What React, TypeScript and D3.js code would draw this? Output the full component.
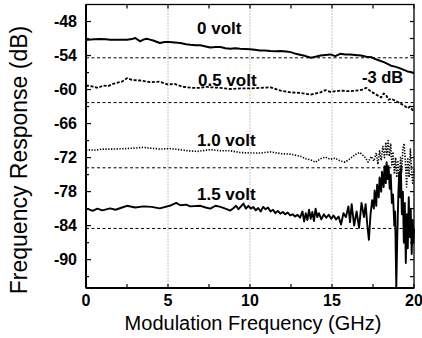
import React from "react";
import * as d3 from "d3";

const W = 422;
const H = 338;

const xTicks = [0, 5, 10, 15, 20];
const yTicks = [-48, -54, -60, -66, -72, -78, -84, -90];
const refLines = [-54.4, -62.3, -73.8, -84.5];

const f0 = [0, 0.12, 0.5, 0.86, 1.2, 1.47, 2.0, 2.5, 2.8, 3.0, 3.15, 3.3, 3.5, 3.7, 3.9, 4.1, 4.5, 4.8, 5.1, 5.4, 5.75, 6.1, 6.36, 6.7, 6.97, 7.3, 7.58, 7.9, 8.2, 8.5, 8.8, 9.1, 9.4, 9.7, 10.0, 10.3, 10.6, 10.9, 11.25, 11.6, 11.87, 12.2, 12.48, 12.8, 13.1, 13.4, 13.7, 14.0, 14.3, 14.6, 14.9, 15.2, 15.5, 15.8, 16.1, 16.4, 16.76, 17.1, 17.4, 17.8, 18.2, 18.6, 18.9, 19.2, 19.6, 19.8, 20.0];
const v0 = [-51.3, -51.2, -51.15, -51.1, -51.15, -51.2, -51.2, -51.2, -51.1, -50.9, -51.2, -51.5, -51.2, -51.05, -51.2, -51.35, -51.8, -51.6, -51.6, -51.7, -51.8, -52.0, -52.1, -52.2, -52.2, -52.4, -52.6, -52.5, -52.5, -52.7, -52.8, -52.7, -52.8, -52.85, -52.9, -53.0, -53.1, -53.1, -53.2, -53.25, -53.2, -53.3, -53.4, -53.7, -53.9, -54.1, -54.4, -54.2, -54.0, -53.9, -53.8, -54.1, -53.7, -53.8, -53.8, -53.9, -54.0, -54.2, -54.3, -54.8, -55.2, -55.8, -56.0, -56.3, -56.8, -56.9, -57.1];

const f05 = [0, 0.12, 0.43, 0.73, 1.04, 1.35, 1.65, 2.2, 2.5, 2.8, 3.3, 3.9, 4.5, 4.96, 5.4, 5.9, 6.5, 6.97, 7.3, 7.6, 8.2, 8.8, 9.4, 10.0, 10.6, 11.25, 11.87, 12.48, 13.1, 13.7, 14.3, 14.6, 14.9, 15.5, 16.1, 16.76, 17.1, 17.4, 17.7, 18.0, 18.15, 18.3, 18.45, 18.6, 18.8, 19.0, 19.2, 19.4, 19.6, 19.75, 19.9, 20.0];
const v05 = [-59.4, -59.3, -59.5, -59.7, -59.3, -59.4, -59.0, -58.6, -58.0, -58.3, -58.4, -58.7, -58.6, -59.1, -59.0, -59.5, -59.7, -59.7, -59.5, -59.6, -59.7, -59.9, -59.8, -59.8, -59.7, -59.6, -60.2, -60.5, -60.6, -60.9, -60.5, -60.1, -60.4, -60.2, -60.3, -60.1, -59.7, -60.4, -60.9, -61.4, -60.7, -61.0, -61.8, -61.6, -61.9, -62.2, -62.5, -62.8, -63.3, -63.0, -63.6, -63.4];

const f10 = [0, 0.12, 0.5, 1.04, 1.6, 2.5, 3.1, 3.5, 4.5, 5.1, 5.7, 6.2, 6.8, 7.6, 8.2, 8.8, 9.4, 10.0, 10.6, 11.25, 11.9, 12.5, 13.1, 13.4, 13.7, 14.0, 14.3, 14.6, 14.9, 15.2, 15.5, 15.8, 16.1, 16.4, 16.7, 17.0, 17.2, 17.4, 17.55, 17.7, 17.8, 17.9, 18.0, 18.1, 18.2, 18.28, 18.35, 18.42, 18.5, 18.58, 18.65, 18.72, 18.8, 18.88, 18.95, 19.02, 19.1, 19.18, 19.25, 19.32, 19.4, 19.48, 19.55, 19.62, 19.7, 19.78, 19.85, 19.92, 20.0];
const v10 = [-70.7, -70.6, -70.7, -70.5, -70.5, -70.4, -70.3, -70.2, -70.5, -70.4, -70.6, -70.8, -70.9, -70.6, -70.8, -70.8, -71.1, -71.2, -71.2, -71.0, -71.3, -71.4, -71.8, -72.2, -72.4, -72.8, -72.2, -71.9, -72.3, -72.1, -72.6, -72.8, -72.2, -71.5, -71.1, -71.9, -72.8, -71.8, -72.6, -71.2, -73.2, -70.8, -72.5, -70.0, -72.0, -69.3, -71.5, -69.0, -71.8, -69.5, -73.5, -71.0, -74.9, -72.0, -75.5, -72.5, -76.1, -72.0, -74.5, -70.5, -69.5, -73.0, -77.2, -72.0, -75.5, -70.5, -74.0, -76.5, -74.0];

const f15 = [0, 0.12, 0.4, 0.7, 1.0, 1.47, 1.8, 2.2, 2.5, 3.0, 3.5, 4.0, 4.5, 5.1, 5.5, 5.75, 6.1, 6.36, 6.97, 7.3, 7.58, 7.9, 8.2, 8.5, 8.8, 9.0, 9.15, 9.3, 9.45, 9.6, 9.75, 9.9, 10.05, 10.2, 10.35, 10.5, 10.65, 10.8, 10.95, 11.1, 11.25, 11.4, 11.55, 11.7, 11.85, 12.0, 12.15, 12.3, 12.45, 12.6, 12.75, 12.9, 13.05, 13.2, 13.3, 13.4, 13.5, 13.6, 13.7, 13.8, 13.9, 14.0, 14.1, 14.2, 14.35, 14.5, 14.65, 14.8, 14.95, 15.1, 15.25, 15.4, 15.55, 15.7, 15.85, 16.0, 16.1, 16.2, 16.35, 16.5, 16.65, 16.8, 16.95, 17.05, 17.15, 17.25, 17.35, 17.45, 17.55, 17.6, 17.7, 17.75, 17.85, 17.9, 18.0, 18.05, 18.15, 18.2, 18.28, 18.33, 18.4, 18.45, 18.52, 18.58, 18.65, 18.72, 18.8, 18.85, 18.92, 18.98, 19.05, 19.1, 19.15, 19.2, 19.26, 19.32, 19.38, 19.44, 19.5, 19.56, 19.62, 19.68, 19.74, 19.8, 19.86, 19.92, 19.97, 20.0];
const v15 = [-81.1, -81.05, -81.4, -81.0, -81.3, -80.95, -81.2, -80.8, -80.5, -80.8, -80.6, -80.7, -80.95, -80.5, -80.0, -80.4, -80.3, -80.6, -80.5, -80.8, -81.0, -80.5, -80.7, -81.0, -81.35, -80.9, -80.5, -81.1, -80.6, -80.1, -81.0, -80.5, -81.0, -80.7, -81.3, -80.9, -81.5, -80.7, -81.1, -80.8, -81.5, -81.2, -81.8, -81.4, -81.9, -81.6, -82.0, -81.7, -82.2, -82.0, -82.4, -82.1, -82.6, -81.5, -83.3, -81.8, -83.0, -81.2, -82.8, -81.6, -83.2, -81.0, -82.5, -81.8, -82.9, -82.0, -82.6, -82.1, -82.8, -82.2, -82.9, -82.4, -83.8, -81.8, -82.5, -80.6, -83.4, -80.2, -84.0, -81.5, -84.4, -80.0, -82.5, -80.2, -83.8, -86.5, -82.0, -79.5, -81.0, -77.8, -80.5, -76.8, -79.0, -75.5, -78.0, -74.5, -77.2, -73.5, -76.5, -72.8, -75.8, -73.5, -77.5, -75.0, -80.0, -78.5, -84.0, -81.5, -95.0, -86.0, -78.0, -74.6, -79.0, -74.1, -82.0, -78.0, -87.0, -80.0, -90.6, -82.0, -88.0, -79.0, -86.0, -81.0, -89.0, -83.0, -87.0, -84.5];

const labels = ["0 volt", "0.5 volt", "1.0 volt", "1.5 volt"];
const labelPos = [[197, 28], [198, 80], [197, 140], [197, 194]];

export default function App() {
  const x = d3.scaleLinear().domain([0, 20]).range([86, 414]);
  const y = d3.scaleLinear().domain([-95, -45]).range([288, 4.5]);
  const line = d3.line<[number, number]>().x((d) => x(d[0])).y((d) => y(d[1]));
  const zip = (a: number[], b: number[]) => a.map((v, i) => [v, b[i]] as [number, number]);

  const series = [
    { d: zip(f0, v0), dash: "none", w: 2 },
    { d: zip(f05, v05), dash: "3,1.6", w: 1.8 },
    { d: zip(f10, v10), dash: "1.3,1.5", w: 1.6 },
    { d: zip(f15, v15), dash: "none", w: 1.9 },
  ];

  const minorY = d3.range(-93, -45, 3);
  const minorX = d3.range(0, 20.01, 2.5);
  const font = "Liberation Sans, Arial, sans-serif";

  return (
    <svg width={W} height={H} style={{ position: "absolute", left: 0, top: 0, background: "#fff" }}>
      <rect x={0} y={0} width={W} height={H} fill="#fff" />
      {[5, 10, 15].map((t) => (
        <line key={"g" + t} x1={x(t)} x2={x(t)} y1={y(-45)} y2={y(-95)} stroke="#888" strokeWidth={1} strokeDasharray="1,2" />
      ))}
      {refLines.map((r, i) => (
        <line key={"r" + i} x1={x(0)} x2={x(20)} y1={y(r)} y2={y(r)} stroke="#000" strokeWidth={1} strokeDasharray="3,2.5" />
      ))}
      {series.map((s, i) => (
        <path key={"s" + i} d={line(s.d) || ""} fill="none" stroke="#000" strokeWidth={s.w} strokeDasharray={s.dash} strokeLinejoin="round" />
      ))}
      {minorY.map((t) => {
        const major = yTicks.includes(t);
        return (
          <g key={"yt" + t}>
            <line x1={x(0)} x2={x(0) + (major ? 5 : 3)} y1={y(t)} y2={y(t)} stroke="#000" strokeWidth={1.2} />
            <line x1={x(20)} x2={x(20) - 4} y1={y(t)} y2={y(t)} stroke="#000" strokeWidth={1.2} />
          </g>
        );
      })}
      {minorX.map((t) => (
        <g key={"xt" + t}>
          <line x1={x(t)} x2={x(t)} y1={y(-95)} y2={y(-95) - 4} stroke="#000" strokeWidth={1.2} />
          <line x1={x(t)} x2={x(t)} y1={y(-45)} y2={y(-45) + 4} stroke="#000" strokeWidth={1.2} />
        </g>
      ))}
      <rect x={x(0)} y={y(-45)} width={x(20) - x(0)} height={y(-95) - y(-45)} fill="none" stroke="#000" strokeWidth={1.3} />
      <line x1={x(0)} x2={x(0)} y1={y(-45)} y2={y(-95)} stroke="#000" strokeWidth={2} />
      <line x1={x(0)} x2={x(20)} y1={y(-95)} y2={y(-95)} stroke="#000" strokeWidth={2} />
      {yTicks.map((t) => (
        <text key={"yl" + t} x={77} y={y(t)} dy="0.36em" textAnchor="end" fontFamily={font} fontWeight="bold" fontSize={16} fill="#000">
          {t}
        </text>
      ))}
      {xTicks.map((t) => (
        <text key={"xl" + t} x={x(t)} y={306} textAnchor="middle" fontFamily={font} fontWeight="bold" fontSize={16} fill="#000">
          {t}
        </text>
      ))}
      {labels.map((l, i) => (
        <text key={"l" + i} x={labelPos[i][0]} y={labelPos[i][1]} dy="0.36em" fontFamily={font} fontWeight="bold" fontSize={17} fill="#000">
          {l}
        </text>
      ))}
      <text x={362} y={77} dy="0.36em" fontFamily={font} fontWeight="bold" fontSize={16.5} fill="#000">-3 dB</text>
      <text x={(x(0) + x(20)) / 2 + 3} y={330} textAnchor="middle" fontFamily={font} fontSize={20} fill="#000">
        Modulation Frequency (GHz)
      </text>
      <text transform={`translate(27, 160) rotate(-90)`} textAnchor="middle" fontFamily={font} fontSize={23} fill="#000">
        Frequency Response (dB)
      </text>
    </svg>
  );
}
